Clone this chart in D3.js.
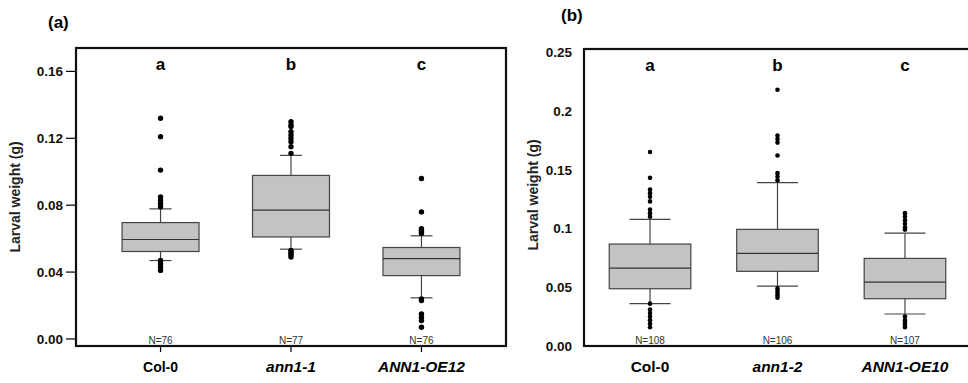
<!DOCTYPE html>
<html lang="en">
<head>
<meta charset="utf-8" />
<title>Larval weight</title>
<script src="https://cdn.jsdelivr.net/npm/d3@7"></script>
<style>
  body { margin:0; background:#fff; font-family:"Liberation Sans", Arial, sans-serif; }
  svg text { font-family:"Liberation Sans", Arial, sans-serif; }
</style>
</head>
<body>
<div id="chart"></div>
<script>
// ---- panel (a) data ----
var catsA = ["Col-0", "ann1-1", "ANN1-OE12"];
var italA = [false, true, true];
var lettersA = ["a", "b", "c"];
var nA = ["N=76", "N=77", "N=76"];
// [whisker low, q1, median, q3, whisker high]
var boxA = [
  [0.0469, 0.0523, 0.0595, 0.0696, 0.0778],
  [0.0537, 0.0610, 0.0770, 0.0978, 0.1098],
  [0.0246, 0.0379, 0.0480, 0.0547, 0.0617]
];
var outA = [
  [0.132, 0.121, 0.101, 0.085, 0.083, 0.081, 0.079, 0.047, 0.045, 0.043, 0.041],
  [0.130, 0.128, 0.127, 0.124, 0.122, 0.120, 0.118, 0.115, 0.111, 0.053, 0.052, 0.051, 0.050, 0.049],
  [0.096, 0.076, 0.066, 0.065, 0.064, 0.063, 0.024, 0.023, 0.015, 0.013, 0.011, 0.007]
];
var ticksA = [0, 0.04, 0.08, 0.12, 0.16];

// ---- panel (b) data ----
var catsB = ["Col-0", "ann1-2", "ANN1-OE10"];
var italB = [false, true, true];
var lettersB = ["a", "b", "c"];
var nB = ["N=108", "N=106", "N=107"];
var boxB = [
  [0.0360, 0.0487, 0.0663, 0.0867, 0.1077],
  [0.0510, 0.0635, 0.0788, 0.0992, 0.1390],
  [0.0272, 0.0402, 0.0544, 0.0745, 0.0960]
];
var outB = [
  [0.165, 0.143, 0.133, 0.130, 0.127, 0.123, 0.116, 0.113, 0.110, 0.036, 0.031, 0.028, 0.025, 0.022, 0.019, 0.016],
  [0.218, 0.179, 0.176, 0.173, 0.162, 0.147, 0.144, 0.141, 0.049, 0.047, 0.045, 0.043, 0.041],
  [0.113, 0.110, 0.107, 0.104, 0.101, 0.099, 0.025, 0.022, 0.020, 0.018, 0.016]
];
var ticksB = [0, 0.05, 0.1, 0.15, 0.2, 0.25];
var tickFmtB = ["0.00", "0.05", "0.1", "0.15", "0.2", "0.25"];

var W = 968, H = 383;
var svg = d3.select("#chart").append("svg").attr("width", W).attr("height", H);

function panel(o) {
  var g = svg.append("g");
  var x = d3.scalePoint().domain(o.cats).range([o.left, o.right]).padding(o.pad);
  var y = d3.scaleLinear().domain(o.ydom).range([o.bottom, o.top]);
  var bw = x.step() * o.bwf;

  // y axis ticks + labels
  if (o.tickMarks) {
    g.selectAll(".yt").data(o.ticks).enter().append("line")
      .attr("x1", o.left - 10).attr("x2", o.left)
      .attr("y1", function(d) { return y(d); }).attr("y2", function(d) { return y(d); })
      .attr("stroke", "#000").attr("stroke-width", 1.2);
    g.selectAll(".xt").data(o.cats).enter().append("line")
      .attr("x1", function(d) { return x(d); }).attr("x2", function(d) { return x(d); })
      .attr("y1", o.bottom).attr("y2", o.bottom + 6)
      .attr("stroke", "#000").attr("stroke-width", 1.2);
  }
  g.selectAll(".yl").data(o.ticks).enter().append("text")
    .attr("x", o.labX).attr("y", function(d) { return y(d) + 5; })
    .attr("text-anchor", "end").attr("font-size", 13.5).attr("font-weight", "bold")
    .attr("fill", "#111")
    .text(function(d, i) { return o.fmt(d, i); });

  // y title
  g.append("text")
    .attr("transform", "translate(" + o.titleX + "," + o.titleY + ") rotate(-90)")
    .attr("text-anchor", "middle").attr("font-size", 14).attr("font-weight", "bold")
    .attr("fill", "#222").text("Larval weight (g)");

  // boxes
  var bx = g.selectAll(".box").data(o.box).enter().append("g");
  bx.append("line")
    .attr("x1", function(d, i) { return x(o.cats[i]); }).attr("x2", function(d, i) { return x(o.cats[i]); })
    .attr("y1", function(d) { return y(d[0]); }).attr("y2", function(d) { return y(d[4]); })
    .attr("stroke", "#444").attr("stroke-width", 1.2);
  [0, 4].forEach(function(k) {
    bx.append("line")
      .attr("x1", function(d, i) { return x(o.cats[i]) - o.cap / 2; })
      .attr("x2", function(d, i) { return x(o.cats[i]) + o.cap / 2; })
      .attr("y1", function(d) { return y(d[k]); }).attr("y2", function(d) { return y(d[k]); })
      .attr("stroke", "#444").attr("stroke-width", 1.2);
  });
  bx.append("rect")
    .attr("x", function(d, i) { return x(o.cats[i]) - bw / 2; })
    .attr("width", bw)
    .attr("y", function(d) { return y(d[3]); })
    .attr("height", function(d) { return y(d[1]) - y(d[3]); })
    .attr("fill", "#c3c3c3").attr("stroke", "#444").attr("stroke-width", 1.2);
  bx.append("line")
    .attr("x1", function(d, i) { return x(o.cats[i]) - bw / 2; })
    .attr("x2", function(d, i) { return x(o.cats[i]) + bw / 2; })
    .attr("y1", function(d) { return y(d[2]); }).attr("y2", function(d) { return y(d[2]); })
    .attr("stroke", "#333").attr("stroke-width", 1.2);

  // outliers
  o.out.forEach(function(arr, i) {
    g.selectAll(null).data(arr).enter().append("circle")
      .attr("cx", x(o.cats[i])).attr("cy", function(d) { return y(d); })
      .attr("r", o.r).attr("fill", "#000");
  });

  // frame
  g.append("rect")
    .attr("x", o.left).attr("y", o.top)
    .attr("width", o.right - o.left).attr("height", o.bottom - o.top)
    .attr("fill", "none").attr("stroke", "#111").attr("stroke-width", 2.2);

  // letters
  g.selectAll(".let").data(o.letters).enter().append("text")
    .attr("x", function(d, i) { return x(o.cats[i]); }).attr("y", o.letY)
    .attr("text-anchor", "middle").attr("font-size", 17).attr("font-weight", "bold")
    .text(function(d) { return d; });

  // N labels
  g.selectAll(".n").data(o.n).enter().append("text")
    .attr("x", function(d, i) { return x(o.cats[i]); }).attr("y", o.bottom - 2)
    .attr("text-anchor", "middle").attr("font-size", 10)
    .attr("fill", "#333").text(function(d) { return d; });

  // category labels
  g.selectAll(".cat").data(o.cats).enter().append("text")
    .attr("x", function(d) { return x(d); }).attr("y", o.catY)
    .attr("text-anchor", "middle").attr("font-weight", "bold")
    .attr("font-size", function(d, i) { return o.ital[i] ? 15.5 : o.plainSize; })
    .attr("font-style", function(d, i) { return o.ital[i] ? "italic" : "normal"; })
    .text(function(d) { return d; });

  // panel label
  svg.append("text").attr("x", o.tagX).attr("y", o.tagY)
    .attr("font-size", 17).attr("font-weight", "bold").text(o.tag);
}

panel({
  cats: catsA, ital: italA, letters: lettersA, n: nA, box: boxA, out: outA,
  ticks: ticksA, fmt: function(d) { return d3.format(".2f")(d); },
  left: 76, right: 506, top: 48, bottom: 346, pad: 0.648, bwf: 0.59, cap: 22, r: 2.7,
  ydom: [-0.0042, 0.174], tickMarks: true, labX: 63, plainSize: 14,
  titleX: 20, titleY: 197, letY: 70, catY: 372, tag: "(a)", tagX: 48, tagY: 28
});

panel({
  cats: catsB, ital: italB, letters: lettersB, n: nB, box: boxB, out: outB,
  ticks: ticksB, fmt: function(d, i) { return tickFmtB[i]; },
  left: 584, right: 971, top: 49, bottom: 346, pad: 0.518, bwf: 0.64, cap: 41, r: 2.3,
  ydom: [0, 0.2526], tickMarks: false, labX: 572, plainSize: 15.5,
  titleX: 538, titleY: 195, letY: 71, catY: 372, tag: "(b)", tagX: 561, tagY: 21
});
</script>
</body>
</html>
